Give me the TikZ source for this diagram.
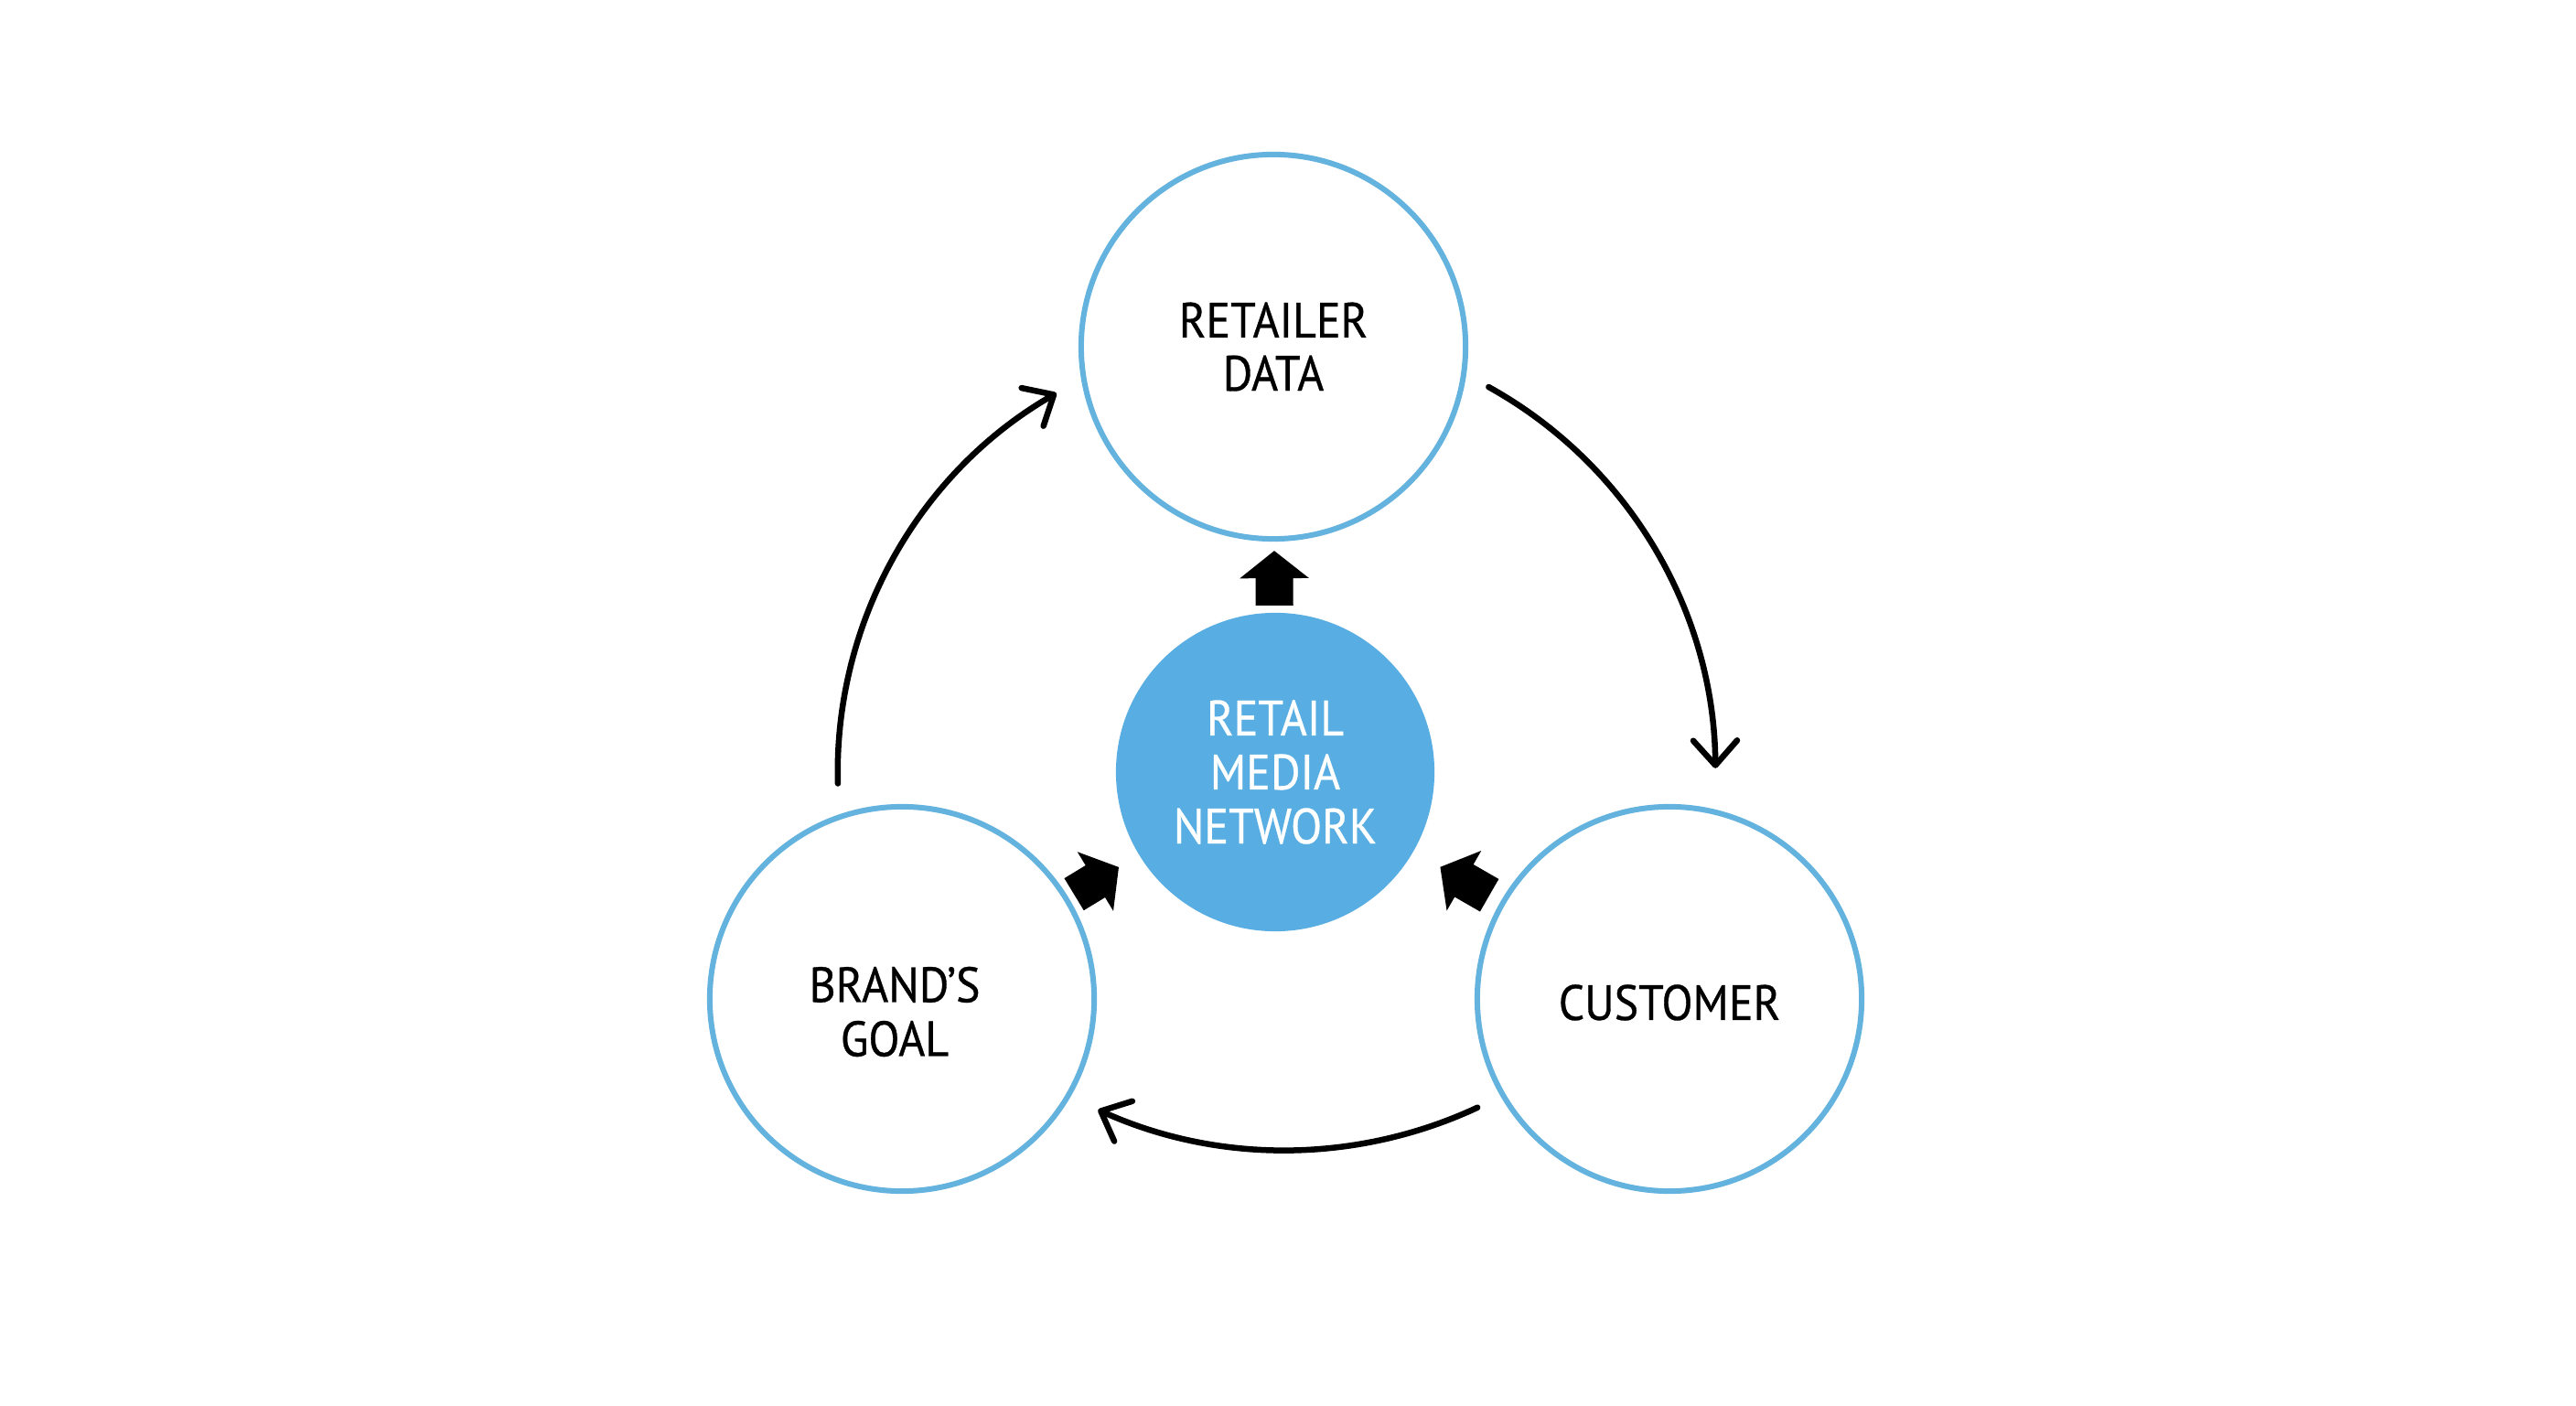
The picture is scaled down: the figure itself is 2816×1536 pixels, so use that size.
\documentclass[tikz,border=0pt]{standalone}
\usepackage{fontspec}
\setmainfont{PT Sans}[FakeStretch=0.92,FakeBold=0.6]
\usetikzlibrary{arrows.meta,calc}
\definecolor{rmblue}{RGB}{88,174,226}
\definecolor{ringblue}{RGB}{100,178,222}
\begin{document}
\begin{tikzpicture}[x=0.01cm,y=0.01cm,
  lbl/.style={font=\fontsize{15.4}{16.8}\selectfont, align=center},
  ring/.style={circle, draw=ringblue, line width=0.6mm, minimum size=4.2cm, inner sep=0pt, lbl},
  hub/.style={circle, fill=rmblue, minimum size=3.48cm, inner sep=0pt, text=white, lbl},
  flow/.style={line width=0.65mm, line cap=round, -{Straight Barb[length=2.7mm,width=4.8mm,line cap=round,line join=round]}},
  blk/.style={line width=4.1mm, -{Triangle[length=3mm,width=7.4mm]}}
]
\fill[white] (0,0) rectangle (2816,1536);
\useasboundingbox (0,0) rectangle (2816,1536);

\node[ring] (ret) at (1392,1157) {\raisebox{-1.2mm}{\shortstack{RETAILER\\[0.9mm]DATA}}};
\node[hub] (rmn) at (1394,692) {RETAIL\\MEDIA\\NETWORK};
\node[ring] (brand) at (986,444) {};
\node[lbl] (brandtxt) at ($(brand.center)+(-8,-14)$) {BRAND’S\\GOAL};
\node[ring] (cust) at (1825,444) {};
\node[lbl] (custtxt) at ($(cust.center)+(0,-4)$) {CUSTOMER};

% block arrows
\draw[blk, shorten <=1.82cm, shorten >=2.23cm] (rmn.center) -- (ret.center);
\draw[blk, shorten <=2.20cm, shorten >=2.00cm] (brand.center) -- (rmn.center);
\draw[blk, shorten <=2.27cm, shorten >=2.08cm] (cust.center) -- (rmn.center);

% cycle arcs
\coordinate (c2) at ($(rmn.center)+(11,84)$);
\coordinate (a1) at ($(rmn.center)+(61:4.81cm)$);
\coordinate (a2) at ($(c2)+(-65:4.97cm)$);
\coordinate (a3) at ($(rmn.center)+(181.5:4.78cm)$);
\draw[flow] (a1) arc[start angle=61, end angle=0.5, radius=4.81cm];
\draw[flow] (a2) arc[start angle=-65, end angle=-114.3, radius=4.97cm];
\draw[flow] (a3) arc[start angle=181.5, end angle=120, radius=4.78cm];
\end{tikzpicture}
\end{document}
